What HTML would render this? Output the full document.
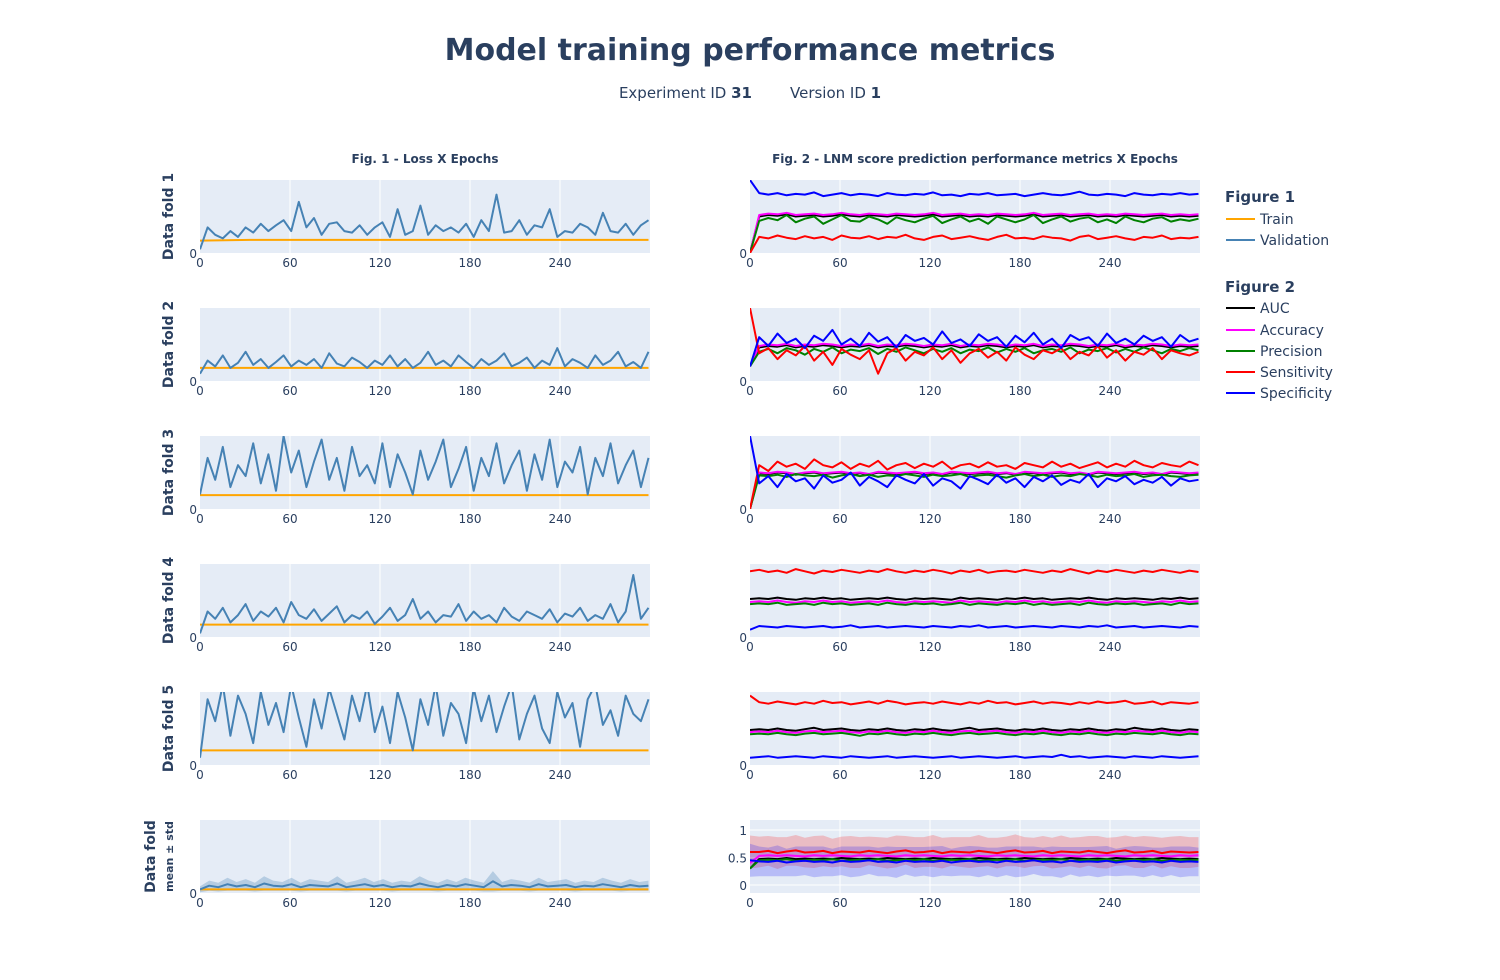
<!DOCTYPE html>
<html><head><meta charset="utf-8"><style>
body{margin:0;background:#fff;font-family:"Liberation Sans","DejaVu Sans",sans-serif;}
svg text{font-family:"DejaVu Sans","Liberation Sans",sans-serif;fill:#2a3f5f;}
</style></head><body>
<svg id="chart" width="1500" height="975" xmlns="http://www.w3.org/2000/svg">
<text x="750" y="60" text-anchor="middle" font-size="30" font-weight="bold">Model training performance metrics</text>
<text x="752" y="98" text-anchor="end" font-size="15">Experiment ID <tspan font-weight="bold">31</tspan></text>
<text x="790" y="98" text-anchor="start" font-size="15">Version ID <tspan font-weight="bold">1</tspan></text>
<text x="425" y="163" text-anchor="middle" font-size="12" font-weight="bold">Fig. 1 - Loss X Epochs</text>
<text x="975" y="163" text-anchor="middle" font-size="12" font-weight="bold">Fig. 2 - LNM score prediction performance metrics X Epochs</text>
<g id="panels"></g>
<g>
<text x="1225" y="202" font-size="15" font-weight="bold">Figure 1</text>
<line x1="1226" y1="219" x2="1255" y2="219" stroke="#FFA500" stroke-width="2"/><text x="1260" y="224" font-size="14">Train</text>
<line x1="1226" y1="240" x2="1255" y2="240" stroke="#4682B4" stroke-width="2"/><text x="1260" y="245" font-size="14">Validation</text>
<text x="1225" y="292" font-size="15" font-weight="bold">Figure 2</text>
<line x1="1226" y1="308" x2="1255" y2="308" stroke="#000" stroke-width="2"/><text x="1260" y="313" font-size="14">AUC</text>
<line x1="1226" y1="330" x2="1255" y2="330" stroke="#ff00ff" stroke-width="2"/><text x="1260" y="335" font-size="14">Accuracy</text>
<line x1="1226" y1="351" x2="1255" y2="351" stroke="#008000" stroke-width="2"/><text x="1260" y="356" font-size="14">Precision</text>
<line x1="1226" y1="372" x2="1255" y2="372" stroke="#ff0000" stroke-width="2"/><text x="1260" y="377" font-size="14">Sensitivity</text>
<line x1="1226" y1="393" x2="1255" y2="393" stroke="#0000ff" stroke-width="2"/><text x="1260" y="398" font-size="14">Specificity</text>
</g>
</svg>
<script>
const xTicks=[0,60,120,180,240];
const maxEpoch=299;
const trainL=[[17,18,18,18,18,18,18,18,18,18],[18,18,18,18,18,18,18,18,18,18],[19,19,19,19,19,19,19,19,19,19],[17,17,17,17,17,17,17,17,17,17],[20,20,20,20,20,20,20,20,20,20],[5,5,5,5,5,5,5,5,5,5]];
const valL1=[5,35,25,20,30,22,35,28,40,30,38,45,30,70,35,48,25,40,42,30,28,38,25,35,42,22,60,25,30,65,25,38,30,35,28,40,22,45,30,80,28,30,45,25,38,35,60,22,30,28,40,35,25,55,30,28,40,25,38,45];
const valL2=[10,28,20,35,18,25,40,22,30,18,26,35,20,28,22,30,18,38,24,20,32,26,18,28,22,35,20,30,18,25,40,22,28,20,35,26,18,30,22,28,38,20,25,32,18,28,22,45,20,30,25,18,35,22,28,40,20,26,18,40];
const valL3=[20,70,40,85,30,60,45,90,35,75,25,100,50,80,30,65,95,40,70,25,85,45,60,35,90,30,75,50,20,80,40,65,95,30,55,85,25,70,45,90,35,60,80,25,75,40,95,30,65,50,85,20,70,45,90,35,60,80,30,70];
const valL4=[5,35,25,40,20,30,45,22,35,28,40,20,48,30,25,38,22,32,42,20,30,25,35,18,28,40,22,30,52,25,35,20,30,28,45,22,35,25,30,20,40,28,22,35,30,25,38,20,32,28,40,22,30,25,45,20,35,85,25,40];
const valL5=[10,90,60,110,40,95,70,30,100,55,85,45,110,65,25,90,50,105,70,35,95,60,110,45,80,30,100,65,20,90,55,110,40,85,70,30,105,60,95,45,80,110,35,70,95,50,30,100,65,85,25,90,110,55,75,40,95,70,60,90];
const valL6=[5,10,8,12,9,11,8,13,10,9,12,8,11,10,9,13,8,10,12,9,11,8,10,9,13,10,8,11,9,12,10,8,16,9,11,10,8,12,9,10,11,8,10,9,12,10,8,11,9,10];
const stdL6=[4,7,6,9,6,8,6,10,7,6,9,6,8,7,6,10,6,7,9,6,8,6,7,6,10,7,6,8,6,9,7,6,14,6,8,7,6,9,6,7,8,6,7,6,9,7,6,8,6,7];
const auc1=[0,50,52,51,53,50,51,52,50,51,53,51,50,52,51,50,52,51,50,51,53,50,51,52,50,51,50,52,51,50,51,53,50,51,52,50,51,52,50,51,50,52,51,50,51,52,50,51,50,51];
const acc1=[0,52,54,53,55,52,53,54,52,53,55,53,52,54,53,52,54,53,52,53,55,52,53,54,52,53,52,54,53,52,53,55,52,53,54,52,53,54,52,53,52,54,53,52,53,54,52,53,52,53];
const pre1=[0,44,48,45,52,42,47,50,40,46,52,44,43,50,46,40,49,45,42,47,51,41,46,50,43,47,40,50,46,42,46,52,41,46,50,43,47,49,42,46,41,50,45,42,47,49,43,46,44,47];
const sen1=[0,22,20,24,21,19,23,20,22,18,24,21,20,23,19,22,21,25,20,18,22,24,19,21,23,20,18,22,25,20,21,19,23,21,20,17,22,24,19,21,23,20,18,22,21,24,19,21,20,22];
const spe1=[100,82,80,82,79,81,80,83,78,80,82,79,81,80,78,82,80,79,81,80,83,79,80,78,81,80,82,79,80,81,78,80,82,80,79,81,84,80,79,81,80,78,82,80,79,81,80,82,80,81];
const auc2=[20,46,48,47,49,46,48,47,49,48,46,48,47,49,46,48,47,49,48,46,48,47,49,46,48,47,49,48,46,48,47,49,46,48,47,49,48,46,48,47,49,46,48,47,49,48,46,48,47,48];
const acc2=[20,48,50,49,51,48,50,49,51,50,48,50,49,51,48,50,49,51,50,48,50,49,51,48,50,49,51,50,48,50,49,51,48,50,49,51,50,48,50,49,51,48,50,49,51,50,48,50,49,50];
const pre2=[20,40,44,38,45,42,36,44,40,46,38,43,41,45,37,44,40,46,42,38,44,40,45,38,43,41,46,39,44,40,45,38,42,44,40,46,38,43,41,45,39,44,40,46,42,38,44,41,45,42];
const sen2=[100,38,45,30,42,35,48,28,40,22,44,36,30,42,10,38,45,28,40,35,46,30,42,25,38,44,32,40,28,46,36,30,42,38,45,30,40,35,48,32,42,28,40,36,45,30,42,38,35,40];
const spe2=[20,60,48,65,52,58,45,62,55,70,50,58,48,66,54,60,46,63,55,59,50,68,52,57,48,64,55,60,47,62,53,66,50,58,45,63,56,60,48,65,52,58,50,62,55,60,47,63,54,58];
const auc3=[0,49,48,50,49,47,49,50,48,49,50,48,49,47,50,49,48,49,50,48,49,47,50,49,48,49,50,48,49,47,50,49,48,49,50,48,49,47,50,49,48,49,50,48,49,47,50,49,48,49];
const acc3=[0,50,49,51,50,48,50,51,49,50,51,49,50,48,51,50,49,50,51,49,50,48,51,50,49,50,51,49,50,48,51,50,49,50,51,49,50,48,51,50,49,50,51,49,50,48,51,50,49,50];
const pre3=[0,46,45,47,44,48,46,45,47,43,46,48,45,47,44,46,45,48,46,44,47,45,46,48,44,46,47,45,43,46,48,45,47,44,46,45,48,46,44,47,45,46,48,44,46,47,45,44,46,47];
const sen3=[0,60,52,65,58,62,55,68,60,57,64,55,62,58,66,54,60,63,56,62,58,65,55,60,62,57,64,58,60,55,63,60,57,65,58,62,56,60,64,57,62,58,66,60,57,63,60,58,65,60];
const spe3=[100,35,45,30,48,38,42,28,46,36,40,50,32,44,38,30,46,40,35,48,32,42,38,28,45,40,34,47,36,42,30,44,38,46,33,40,36,48,30,42,38,45,34,40,36,44,32,42,38,40];
const auc4=[52,53,52,54,52,51,53,52,54,52,53,51,52,53,52,54,52,51,53,52,53,52,51,54,52,53,52,51,53,52,54,52,53,51,52,53,52,54,52,51,53,52,53,52,51,53,52,54,52,53];
const acc4=[48,49,48,50,48,47,49,48,50,48,49,47,48,49,48,50,48,47,49,48,49,48,47,50,48,49,48,47,49,48,50,48,49,47,48,49,48,50,48,47,49,48,49,48,47,49,48,50,48,49];
const pre4=[45,46,45,47,44,45,46,44,47,45,46,44,45,46,44,47,45,44,46,45,46,44,45,47,44,46,45,44,46,45,47,44,46,44,45,46,44,47,45,44,46,45,46,44,45,46,44,47,45,46];
const sen4=[90,92,89,91,88,93,90,87,91,89,92,90,88,91,89,93,90,88,91,89,92,90,87,91,89,92,88,90,91,89,92,90,88,91,89,93,90,87,91,89,92,90,88,91,89,92,90,88,91,89];
const spe4=[10,15,14,13,15,14,13,14,15,13,14,16,13,14,15,13,14,15,14,13,15,14,13,15,14,16,13,14,15,13,14,15,14,13,15,14,13,15,14,16,13,14,15,13,14,15,14,13,15,14];
const auc5=[48,49,48,50,48,47,49,51,48,49,50,48,47,49,48,50,48,47,49,48,50,48,47,49,51,48,49,50,48,47,49,48,50,48,47,49,48,50,48,47,49,48,51,49,48,50,48,47,49,48];
const acc5=[45,46,45,47,45,44,46,47,45,46,47,45,44,46,45,47,45,44,46,45,47,45,44,46,47,45,46,47,45,44,46,45,47,45,44,46,45,47,45,44,46,45,47,46,45,47,45,44,46,45];
const pre5=[42,43,42,44,42,41,43,44,42,43,44,42,40,43,42,44,42,41,43,42,44,42,41,43,44,42,43,44,42,41,43,42,44,42,41,43,42,44,42,41,43,42,44,43,42,44,42,41,43,42];
const sen5=[95,86,84,87,85,83,86,84,88,85,86,83,85,87,84,88,86,83,85,86,84,87,85,83,86,84,88,85,86,83,85,87,84,86,85,83,86,84,87,85,86,88,84,85,87,83,86,85,84,86];
const spe5=[10,11,12,10,11,12,11,10,12,11,10,12,11,10,11,12,10,11,12,11,10,11,12,10,11,12,11,10,11,12,10,11,12,11,14,11,12,10,11,12,11,10,12,11,10,12,11,10,11,12];
const auc6=[30,47,48,47,49,47,48,47,48,47,49,48,47,48,47,49,48,47,48,47,49,48,47,48,47,49,48,47,48,47,49,48,47,48,47,49,48,47,48,47,49,48,47,48,47,49,48,47,48,47];
const acc6=[40,53,54,53,54,53,52,54,53,54,53,52,54,53,54,53,52,54,53,54,53,52,54,53,54,53,52,54,53,54,53,52,54,53,54,53,52,54,53,54,53,52,54,53,54,53,52,54,53,54];
const pre6=[30,45,46,45,47,44,45,46,45,47,44,45,46,45,47,44,45,46,45,47,44,45,46,45,47,44,45,46,45,47,44,45,46,45,47,44,45,46,45,47,44,45,46,45,47,44,45,46,45,46];
const sen6=[60,60,62,58,61,63,59,60,62,58,61,60,59,62,60,58,61,63,59,60,62,58,61,60,59,62,60,58,61,63,59,60,62,58,61,60,59,62,60,58,61,63,59,60,62,58,61,60,59,60];
const spe6=[45,43,42,44,41,43,44,42,43,41,44,42,43,45,42,43,41,44,42,43,42,44,41,43,44,42,43,41,44,42,43,45,42,43,41,44,42,43,42,44,41,43,44,42,43,41,44,42,43,42];
const senStd6=[30,28,27,29,26,28,27,29,28,26,27,29,28,26,27,28,29,26,28,27,29,28,26,27,28,29,26,28,27,29,28,26,27,28,29,26,28,27,29,28,26,27,28,29,26,28,27,29,28,27];
const speStd6=[30,27,26,28,25,27,26,28,27,25,26,28,27,25,26,27,28,25,27,26,28,27,25,26,27,28,25,27,26,28,27,25,26,27,28,25,27,26,28,27,25,26,27,28,25,27,26,28,27,26];
const leftVal=[valL1,valL2,valL3,valL4,valL5,valL6];
const rightSeries=[[auc1,acc1,pre1,sen1,spe1],[auc2,acc2,pre2,sen2,spe2],[auc3,acc3,pre3,sen3,spe3],[auc4,acc4,pre4,sen4,spe4],[auc5,acc5,pre5,sen5,spe5],[auc6,acc6,pre6,sen6,spe6]];
const rightNames=['auc','accuracy','precision','sensitivity','specificity'];
const rightColors=['#000000','#ff00ff','#008000','#ff0000','#0000ff'];
const rowLabels=['Data fold 1','Data fold 2','Data fold 3','Data fold 4','Data fold 5'];

const NS='http://www.w3.org/2000/svg';
const root=document.getElementById('panels');
function mk(tag,attrs,parent){const e=document.createElementNS(NS,tag);for(const k in attrs)e.setAttribute(k,attrs[k]);(parent||root).appendChild(e);return e;}
const PW=450,PH=73;
function xs(x0,i,n){return x0+(i*maxEpoch/(n-1))*1.5;}
function pathOf(arr,x0,ys){return arr.map((v,i)=>(i?'L':'M')+xs(x0,i,arr.length).toFixed(1)+','+ys(v).toFixed(1)).join('');}
function bandOf(mean,std,x0,ys){let up=mean.map((v,i)=>(i?'L':'M')+xs(x0,i,mean.length).toFixed(1)+','+ys(v+std[i]).toFixed(1)).join('');let dn=mean.map((v,i)=>[i,v]).reverse().map(([i,v])=>'L'+xs(x0,i,mean.length).toFixed(1)+','+ys(Math.max(0,v-std[i])).toFixed(1)).join('');return up+dn+'Z';}

for(let r=0;r<6;r++){
  const top=180+128*r;
  [200,750].forEach((x0,side)=>{
    const g=mk('g',{});
    
    
    const bg=mk('rect',{x:x0,y:top,width:PW,height:PH,fill:'#e5ecf6'},g);
    
    
    const last=(side===1&&r===5);
    const ys=last?(v=>top+65-v/100*55):(v=>top+PH-v/100*PH);
    xTicks.forEach(t=>{
      const xp=x0+t*1.5;
      if(t>0){const gl=mk('line',{x1:xp,x2:xp,y1:top,y2:top+PH,stroke:'#fff','stroke-width':1},g);
      
      }
      const tl=mk('text',{x:xp,y:top+PH+14,'text-anchor':'middle','font-size':12},g);
      
      
      tl.textContent=t;
    });
    const yt=last?[0,50,100]:[0];
    yt.forEach(v=>{
      if(last){const gl=mk('line',{x1:x0,x2:x0+PW,y1:ys(v),y2:ys(v),stroke:'#fff','stroke-width':1},g);
      
      }
      const tl=mk('text',{x:x0-3,y:(last?ys(v):top+PH)+5,'text-anchor':'end','font-size':12},g);
      
      
      tl.textContent=last?(v===0?'0':v===50?'0.5':'1'):'0';
    });
    const cid='clip'+r+'_'+side;
    const cp=mk('clipPath',{id:cid},g);mk('rect',{x:x0,y:top,width:PW,height:PH},cp);
    const cg=mk('g',{'clip-path':'url(#'+cid+')'},g);
    if(side===0){
      if(r===5){const b=mk('path',{d:bandOf(valL6,stdL6,x0,ys),fill:'rgba(70,130,180,0.3)',stroke:'none'},cg);
      
      }
      const t=mk('path',{d:pathOf(trainL[r],x0,ys),fill:'none',stroke:'#FFA500','stroke-width':2},cg);
      
      
      const v=mk('path',{d:pathOf(leftVal[r],x0,ys),fill:'none',stroke:'#4682B4','stroke-width':2,'stroke-linejoin':'round'},cg);
      
      
    }else{
      if(last){
        const b1=mk('path',{d:bandOf(sen6,senStd6,x0,ys),fill:'rgba(255,0,0,0.2)',stroke:'none'},cg);
        
        
        const b2=mk('path',{d:bandOf(spe6,speStd6,x0,ys),fill:'rgba(0,0,255,0.2)',stroke:'none'},cg);
        
        
      }
      rightSeries[r].forEach((arr,k)=>{
        const p=mk('path',{d:pathOf(arr,x0,ys),fill:'none',stroke:rightColors[k],'stroke-width':2,'stroke-linejoin':'round'},cg);
        
        
      });
    }
  });
  const cy=top+PH/2;
  if(r<5){
    const yl=mk('text',{x:0,y:0,transform:'translate(173,'+cy+') rotate(-90)','text-anchor':'middle','font-size':14,'font-weight':'bold'});
    
    
    yl.textContent=rowLabels[r];
  }else{
    const yl=mk('text',{x:0,y:0,transform:'translate(155,'+cy+') rotate(-90)','text-anchor':'middle','font-size':14,'font-weight':'bold'});
    
    
    yl.textContent='Data fold';
    const y2=mk('text',{x:0,y:0,transform:'translate(173,'+cy+') rotate(-90)','text-anchor':'middle','font-size':11,'font-weight':'bold'});
    
    
    y2.textContent='mean ± std';
  }
}
</script>
</body></html>
